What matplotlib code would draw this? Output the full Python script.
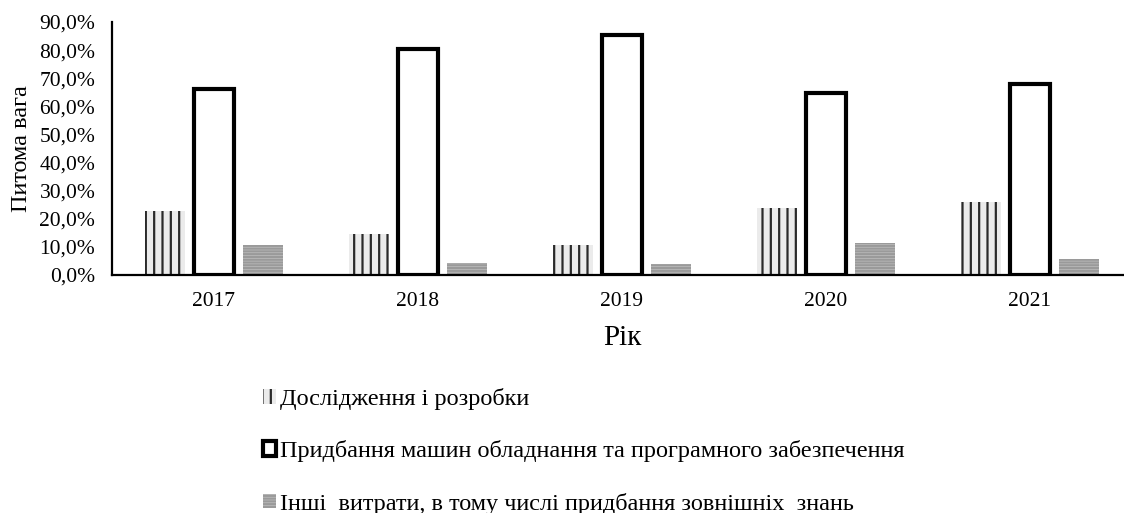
import numpy as np
import matplotlib
matplotlib.use('Agg')
import matplotlib.pyplot as plt

plt.rcParams['font.family'] = ['Liberation Serif', 'DejaVu Serif']
plt.rcParams['hatch.linewidth'] = 1.6

years = ['2017', '2018', '2019', '2020', '2021']
research = [22.9, 14.6, 10.6, 23.7, 26.1]
machines = [66.2, 80.4, 85.4, 64.6, 68.0]
other = [10.7, 4.2, 3.8, 11.5, 5.6]

labels = ['Дослідження і розробки',
          'Придбання машин обладнання та програмного забезпечення',
          'Інші  витрати, в тому числі придбання зовнішніх  знань']

fig = plt.figure(figsize=(11.24, 5.13), dpi=100)
# the category axis runs a little past the right edge of the picture
ax = fig.add_axes([0.0996, 0.4639, 0.9075, 0.4932])

x = np.arange(len(years))
w = 0.196
off = 0.242

b1 = ax.bar(x - off, research, width=w, facecolor='#ebebeb', edgecolor='#2a2a2a',
            linewidth=0, hatch='||', label=labels[0])
b2 = ax.bar(x, machines, width=w, facecolor='white', edgecolor='black',
            linewidth=3, label=labels[1])
b3 = ax.bar(x + off, other, width=w, facecolor='#c8c8c8', edgecolor='#9a9a9a',
            linewidth=0, hatch='------', label=labels[2])

ax.set_xlim(-0.5, len(years) - 0.5)
ax.set_ylim(0, 90)
ticks = np.arange(0, 91, 10)
ax.set_yticks(ticks)
ax.set_yticklabels([f'{v:.1f}%'.replace('.', ',') for v in ticks])
ax.set_xticks(x)
ax.set_xticklabels(years)
ax.tick_params(axis='both', length=0, labelsize=15.5)
ax.tick_params(axis='y', pad=12)
ax.tick_params(axis='x', pad=12.5)

for s in ['top', 'right']:
    ax.spines[s].set_visible(False)
for s in ['left', 'bottom']:
    ax.spines[s].set_linewidth(1.6)
    ax.spines[s].set_color('black')

ax.set_ylabel('Питома вага', fontsize=17.5, labelpad=5)
ax.set_xlabel('Рік', fontsize=21, labelpad=10)

fig.legend(handles=[b1, b2, b3], loc='upper left', bbox_to_anchor=(0.234, 0.244),
           frameon=False, fontsize=17.5, handlelength=0.55, handleheight=0.55,
           handletextpad=0.15, labelspacing=1.25, borderaxespad=0, borderpad=0)

fig.savefig('out.png', dpi=100)
